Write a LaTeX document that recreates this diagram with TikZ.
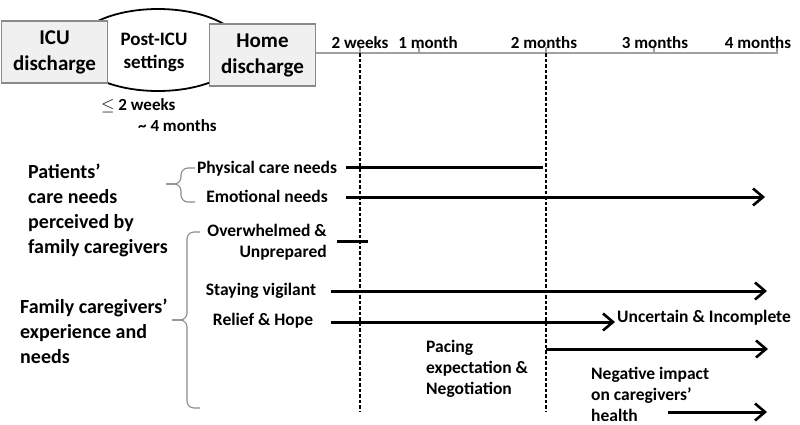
\documentclass[tikz,border=0pt]{standalone}
\usepackage{fontspec}
\setmainfont{Carlito}
\usetikzlibrary{arrows.meta,shapes.geometric}
\definecolor{boxfill}{HTML}{F0F0F0}
\definecolor{boxline}{HTML}{8A8A8A}
\definecolor{tline}{HTML}{A0A0A0}
\begin{document}
\begin{tikzpicture}[x=1pt,y=-1pt,
  hdr/.style={draw=boxline,line width=1.3pt,fill=boxfill,minimum width=106pt,minimum height=62pt,inner sep=0pt,align=center,font=\bfseries\fontsize{21}{26}\selectfont},
  tl/.style={font=\bfseries\fontsize{17}{19}\selectfont,inner sep=0pt},
  lbl/.style={font=\bfseries\fontsize{17.5}{21}\selectfont,inner sep=0pt},
  big/.style={font=\bfseries\fontsize{20}{25}\selectfont,inner sep=0pt,align=left},
  arr/.style={line width=3pt,-{Straight Barb[length=10pt,width=17pt,line width=2.6pt]}},
  seg/.style={line width=3pt},
  dsh/.style={line width=1.3pt,dash pattern=on 3.5pt off 2pt},
  brc/.style={draw=boxline,line width=1.1pt,rounded corners=7pt}]
\useasboundingbox (0,0) rectangle (800,424);
% header
\node[draw,line width=1.8pt,ellipse,minimum width=170pt,minimum height=82pt,inner sep=0pt] (post) at (158,50) {};
\node[hdr] (icu) at (54.5,52) {ICU\\discharge};
\node[hdr] (home) at (262.5,55) {Home\\discharge};
\node[align=center,font=\bfseries\fontsize{19}{23}\selectfont,inner sep=0pt] (postt) at (154,52.5) {Post-ICU\\settings};
\node[font=\bfseries\fontsize{17}{19}\selectfont,inner sep=0pt,anchor=west] (le) at (101,106) {$\leq$ 2 weeks};
\node[font=\bfseries\fontsize{17}{19}\selectfont,inner sep=0pt,anchor=west] (ap) at (138,126) {\textasciitilde\ 4 months};
% timeline
\coordinate (t4) at (778,53);
\draw[tline,line width=2.6pt] (home.east |- t4) -- (t4);
\foreach \x/\n in {360/w2,419/m1,546/m2,654/m3,777/m4}{
  \coordinate (\n) at (\x,53);
  \draw[tline,line width=2pt] (\n) -- ++(0,-6);
}
\node[tl] (lw2) at (360,43) {2 weeks};
\node[tl] (lm1) at (428,43) {1 month};
\node[tl] (lm2) at (544,43) {2 months};
\node[tl] (lm3) at (655,43) {3 months};
\node[tl] (lm4) at (758,43) {4 months};
\coordinate (d1) at (360,411);
\coordinate (d2) at (546,412);
\draw[dsh] (w2) -- (d1);
\draw[dsh] (m2) -- (d2);
% left group labels
\node[big,anchor=west] (pat) at (28,210) {Patients'\\care needs\\perceived by\\family caregivers};
\node[big,anchor=west] (fam) at (20,331) {Family caregivers'\\experience and\\needs};
% braces
\draw[brc] (195,168) -- (181,168) -- (181,184) -- (166,184);
\draw[brc] (195,202) -- (181,202) -- (181,184) -- (166,184);
\draw[brc] (200,232) -- (187,232) -- (187,320) -- (172,320);
\draw[brc] (200,408) -- (187,408) -- (187,320) -- (172,320);
% items
\node[lbl] (phys) at (267,169) {Physical care needs};
\node[lbl] (emo) at (267,196) {Emotional needs};
\node[lbl,align=right,anchor=east] (over) at (327,242) {Overwhelmed \&\\Unprepared};
\node[lbl] (stay) at (261,291) {Staying vigilant};
\node[lbl] (rel) at (263,321) {Relief \& Hope};
\node[lbl,anchor=west] (unc) at (617,318) {Uncertain \& Incomplete};
\node[lbl,anchor=west,align=left] (pace) at (426,369) {Pacing\\expectation \&\\Negotiation};
\node[lbl,anchor=west,align=left] (neg) at (591,394) {Negative impact\\on caregivers'\\health};
% lines
\coordinate (physS) at (346,167);
\coordinate (physE) at (543,167);
\coordinate (emoS) at (346,197);
\coordinate (emoE) at (765,197);
\coordinate (overS) at (337,241);
\coordinate (overE) at (368,241);
\coordinate (stayS) at (331,291);
\coordinate (stayE) at (767,291);
\coordinate (relS) at (331,322);
\coordinate (relE) at (615,322);
\coordinate (paceS) at (546,349);
\coordinate (paceE) at (768,349);
\coordinate (negS) at (668,412);
\coordinate (negE) at (767,412);
\draw[seg] (physS) -- (physE);
\draw[arr] (emoS) -- (emoE);
\draw[seg] (overS) -- (overE);
\draw[arr] (stayS) -- (stayE);
\draw[arr] (relS) -- (relE);
\draw[arr] (paceS) -- (paceE);
\draw[arr] (negS) -- (negE);
\end{tikzpicture}
\end{document}
